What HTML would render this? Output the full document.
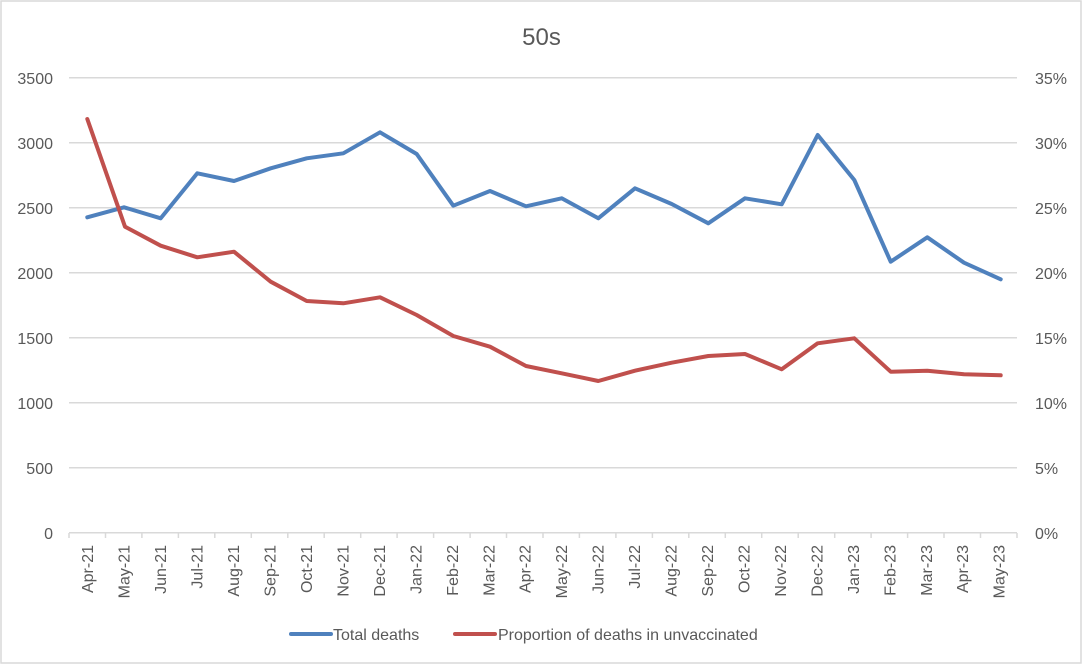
<!DOCTYPE html>
<html><head><meta charset="utf-8"><style>
html,body{margin:0;padding:0;background:#fff;}
svg{display:block;}
text{font-family:"Liberation Sans",sans-serif;fill:#595959;}
</style></head><body>
<svg width="1083" height="665" viewBox="0 0 1083 665" xmlns="http://www.w3.org/2000/svg">
<rect x="0" y="0" width="1083" height="665" fill="#fff"/>
<rect x="1" y="1" width="1080" height="662" fill="none" stroke="#d9d9d9" stroke-width="1.5"/>
<text x="541.5" y="45" font-size="24" text-anchor="middle">50s</text>
<g stroke="#d9d9d9" stroke-width="1.5">
<line x1="69" y1="77.7" x2="1017" y2="77.7"/>
<line x1="69" y1="142.7" x2="1017" y2="142.7"/>
<line x1="69" y1="207.7" x2="1017" y2="207.7"/>
<line x1="69" y1="272.7" x2="1017" y2="272.7"/>
<line x1="69" y1="337.7" x2="1017" y2="337.7"/>
<line x1="69" y1="402.7" x2="1017" y2="402.7"/>
<line x1="69" y1="467.7" x2="1017" y2="467.7"/>
<line x1="69" y1="532.7" x2="1017" y2="532.7"/>
</g>
<g stroke="#d9d9d9" stroke-width="1.5">
<line x1="69" y1="533" x2="69" y2="538"/><line x1="105.5" y1="533" x2="105.5" y2="538"/><line x1="141.9" y1="533" x2="141.9" y2="538"/><line x1="178.4" y1="533" x2="178.4" y2="538"/><line x1="214.8" y1="533" x2="214.8" y2="538"/><line x1="251.3" y1="533" x2="251.3" y2="538"/><line x1="287.8" y1="533" x2="287.8" y2="538"/><line x1="324.2" y1="533" x2="324.2" y2="538"/><line x1="360.7" y1="533" x2="360.7" y2="538"/><line x1="397.1" y1="533" x2="397.1" y2="538"/><line x1="433.6" y1="533" x2="433.6" y2="538"/><line x1="470.1" y1="533" x2="470.1" y2="538"/><line x1="506.5" y1="533" x2="506.5" y2="538"/><line x1="543" y1="533" x2="543" y2="538"/><line x1="579.4" y1="533" x2="579.4" y2="538"/><line x1="615.9" y1="533" x2="615.9" y2="538"/><line x1="652.4" y1="533" x2="652.4" y2="538"/><line x1="688.8" y1="533" x2="688.8" y2="538"/><line x1="725.3" y1="533" x2="725.3" y2="538"/><line x1="761.7" y1="533" x2="761.7" y2="538"/><line x1="798.2" y1="533" x2="798.2" y2="538"/><line x1="834.7" y1="533" x2="834.7" y2="538"/><line x1="871.1" y1="533" x2="871.1" y2="538"/><line x1="907.6" y1="533" x2="907.6" y2="538"/><line x1="944" y1="533" x2="944" y2="538"/><line x1="980.5" y1="533" x2="980.5" y2="538"/><line x1="1017" y1="533" x2="1017" y2="538"/>
</g>
<g font-size="16" text-anchor="end">
<text x="53" y="84">3500</text>
<text x="53" y="149">3000</text>
<text x="53" y="214">2500</text>
<text x="53" y="279">2000</text>
<text x="53" y="344">1500</text>
<text x="53" y="409">1000</text>
<text x="53" y="474">500</text>
<text x="53" y="539">0</text>
</g>
<g font-size="16" text-anchor="start">
<text x="1035" y="84">35%</text>
<text x="1035" y="149">30%</text>
<text x="1035" y="214">25%</text>
<text x="1035" y="279">20%</text>
<text x="1035" y="344">15%</text>
<text x="1035" y="409">10%</text>
<text x="1035" y="474">5%</text>
<text x="1035" y="539">0%</text>
</g>
<g font-size="16" text-anchor="end">
<text transform="translate(93.2,545) rotate(-90)">Apr-21</text>
<text transform="translate(129.7,545) rotate(-90)">May-21</text>
<text transform="translate(166.1,545) rotate(-90)">Jun-21</text>
<text transform="translate(202.6,545) rotate(-90)">Jul-21</text>
<text transform="translate(239,545) rotate(-90)">Aug-21</text>
<text transform="translate(275.5,545) rotate(-90)">Sep-21</text>
<text transform="translate(312,545) rotate(-90)">Oct-21</text>
<text transform="translate(348.4,545) rotate(-90)">Nov-21</text>
<text transform="translate(384.9,545) rotate(-90)">Dec-21</text>
<text transform="translate(421.3,545) rotate(-90)">Jan-22</text>
<text transform="translate(457.8,545) rotate(-90)">Feb-22</text>
<text transform="translate(494.3,545) rotate(-90)">Mar-22</text>
<text transform="translate(530.7,545) rotate(-90)">Apr-22</text>
<text transform="translate(567.2,545) rotate(-90)">May-22</text>
<text transform="translate(603.6,545) rotate(-90)">Jun-22</text>
<text transform="translate(640.1,545) rotate(-90)">Jul-22</text>
<text transform="translate(676.6,545) rotate(-90)">Aug-22</text>
<text transform="translate(713,545) rotate(-90)">Sep-22</text>
<text transform="translate(749.5,545) rotate(-90)">Oct-22</text>
<text transform="translate(785.9,545) rotate(-90)">Nov-22</text>
<text transform="translate(822.4,545) rotate(-90)">Dec-22</text>
<text transform="translate(858.9,545) rotate(-90)">Jan-23</text>
<text transform="translate(895.3,545) rotate(-90)">Feb-23</text>
<text transform="translate(931.8,545) rotate(-90)">Mar-23</text>
<text transform="translate(968.2,545) rotate(-90)">Apr-23</text>
<text transform="translate(1004.7,545) rotate(-90)">May-23</text>
</g>
<polyline fill="none" stroke="#4F81BD" stroke-width="4" stroke-linejoin="round" stroke-linecap="round" points="87.3,217.3 124,207.3 160.7,218.3 197.3,173.3 234,181 270.7,168.3 306.7,158.3 343.3,153.3 380,132.3 416.7,154 453.3,205.7 490,191 526,206.3 561.7,198.3 598.3,218.3 635,188.3 671.7,204 708.3,223.3 745,198.3 781.7,204.3 817.7,135 854.3,180 890.7,261.7 927.3,237.3 964,262.7 1000.7,279.3"/>
<polyline fill="none" stroke="#C0504D" stroke-width="4" stroke-linejoin="round" stroke-linecap="round" points="87.3,119 125,226.7 160.7,245.7 197.3,257.3 234,251.7 270.7,281.7 306.7,301 343.3,303.3 380,297.3 416.7,315 453.3,336 490,346.7 526,366 561.7,373.3 598.3,381 635,370.7 671.7,362.7 708.3,356 745,354 781.7,369.3 817.7,343.3 854.3,338.3 890.7,371.7 927.3,370.7 964,374.3 1000.7,375.3"/>
<line x1="291" y1="634" x2="331" y2="634" stroke="#4F81BD" stroke-width="4" stroke-linecap="round"/>
<text x="333" y="640" font-size="16">Total deaths</text>
<line x1="455" y1="634" x2="495" y2="634" stroke="#C0504D" stroke-width="4" stroke-linecap="round"/>
<text x="498" y="640" font-size="16">Proportion of deaths in unvaccinated</text>
</svg>
</body></html>
